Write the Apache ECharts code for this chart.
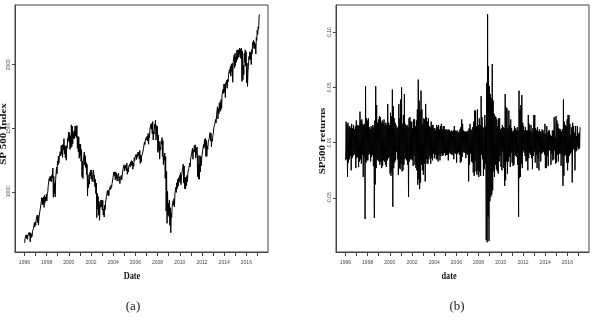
<!DOCTYPE html>
<html>
<head>
<meta charset="utf-8">
<script src="https://cdn.jsdelivr.net/npm/echarts@6/dist/echarts.min.js"></script>
<style>
  html, body { margin: 0; padding: 0; background: #fff; }
  #chart { width: 595px; height: 320px; }
</style>
</head>
<body>
<div id="chart"></div>
<script>
// monthly data, Jan 1996 .. Feb 2017 (one row per year)
const startYear = 1996;

// S&P 500: lowest and highest close in each month
const idxLow = [
  598, 628, 633, 626, 641, 656, 605, 639, 649, 686, 704, 723,
  737, 773, 757, 737, 798, 833, 891, 899, 899, 877, 915, 932,
  927, 1001, 1047, 1086, 1084, 1078, 1112, 957, 987, 959, 1111, 1142,
  1212, 1224, 1262, 1282, 1295, 1271, 1329, 1297, 1268, 1248, 1343, 1402,
  1394, 1333, 1346, 1356, 1378, 1420, 1419, 1438, 1427, 1342, 1315, 1264,
  1284, 1240, 1118, 1104, 1248, 1209, 1191, 1134, 966, 1033, 1060, 1124,
  1100, 1081, 1127, 1076, 1040, 985, 797, 864, 815, 776, 878, 880,
  856, 817, 801, 858, 917, 967, 974, 967, 996, 1018, 1034, 1061,
  1108, 1128, 1094, 1107, 1084, 1124, 1084, 1064, 1103, 1094, 1130, 1173,
  1163, 1184, 1166, 1138, 1155, 1187, 1194, 1209, 1205, 1177, 1202, 1245,
  1262, 1254, 1272, 1286, 1256, 1223, 1234, 1266, 1294, 1331, 1371, 1396,
  1409, 1399, 1374, 1424, 1485, 1492, 1455, 1407, 1453, 1500, 1407, 1445,
  1310, 1326, 1257, 1332, 1375, 1278, 1214, 1249, 1106, 848, 752, 818,
  806, 735, 677, 798, 880, 893, 880, 980, 995, 1025, 1043, 1088,
  1074, 1056, 1115, 1173, 1068, 1023, 1023, 1047, 1080, 1138, 1172, 1198,
  1270, 1302, 1256, 1310, 1315, 1265, 1292, 1119, 1099, 1099, 1158, 1205,
  1277, 1313, 1343, 1358, 1278, 1278, 1334, 1376, 1404, 1403, 1354, 1398,
  1459, 1496, 1519, 1541, 1598, 1573, 1614, 1630, 1640, 1656, 1762, 1775,
  1782, 1741, 1839, 1815, 1863, 1924, 1931, 1909, 1946, 1862, 2018, 1973,
  1992, 2020, 2040, 2058, 2080, 2058, 2047, 1868, 1882, 1923, 2019, 1989,
  1859, 1829, 1986, 2041, 2040, 2001, 2088, 2157, 2128, 2126, 2085, 2191,
  2238, 2279
];
const idxHigh = [
  636, 661, 660, 656, 678, 680, 676, 668, 690, 710, 757, 761,
  786, 816, 814, 801, 848, 898, 955, 951, 960, 973, 959, 983,
  985, 1049, 1105, 1122, 1118, 1134, 1187, 1121, 1066, 1099, 1193, 1241,
  1280, 1272, 1316, 1362, 1368, 1373, 1418, 1363, 1357, 1363, 1422, 1469,
  1465, 1441, 1527, 1516, 1469, 1480, 1517, 1518, 1521, 1437, 1432, 1376,
  1374, 1333, 1241, 1249, 1313, 1284, 1231, 1215, 1134, 1093, 1152, 1171,
  1172, 1116, 1171, 1129, 1097, 1068, 989, 963, 924, 900, 936, 934,
  932, 864, 895, 919, 964, 1011, 1010, 1008, 1039, 1051, 1064, 1112,
  1155, 1157, 1156, 1145, 1122, 1145, 1118, 1108, 1129, 1130, 1184, 1213,
  1203, 1211, 1226, 1181, 1198, 1216, 1235, 1245, 1241, 1226, 1269, 1272,
  1294, 1294, 1311, 1312, 1326, 1289, 1280, 1305, 1339, 1390, 1407, 1427,
  1438, 1459, 1444, 1495, 1531, 1539, 1553, 1474, 1531, 1565, 1520, 1516,
  1447, 1395, 1351, 1397, 1426, 1404, 1284, 1305, 1277, 1161, 1005, 909,
  934, 875, 833, 877, 929, 946, 987, 1036, 1071, 1098, 1110, 1128,
  1150, 1109, 1174, 1217, 1202, 1116, 1115, 1128, 1148, 1184, 1226, 1259,
  1299, 1343, 1330, 1364, 1370, 1345, 1353, 1287, 1217, 1285, 1276, 1266,
  1326, 1372, 1416, 1419, 1405, 1362, 1390, 1418, 1466, 1461, 1416, 1443,
  1502, 1530, 1569, 1598, 1669, 1654, 1698, 1709, 1726, 1763, 1807, 1848,
  1848, 1859, 1878, 1884, 1924, 1962, 1988, 2003, 2011, 2018, 2075, 2090,
  2063, 2115, 2117, 2117, 2131, 2124, 2129, 2108, 1996, 2090, 2117, 2103,
  2013, 1951, 2064, 2102, 2097, 2120, 2175, 2191, 2180, 2164, 2214, 2272,
  2298, 2370
];
const idxEnd = 2396; // 1 Mar 2017

// daily returns: largest and smallest in each month
const retMax = [
  0.019, 0.016, 0.018, 0.014, 0.015, 0.013, 0.017, 0.013, 0.016, 0.012, 0.015, 0.020,
  0.016, 0.015, 0.016, 0.028, 0.020, 0.021, 0.017, 0.016, 0.017, 0.051, 0.022, 0.020,
  0.022, 0.014, 0.012, 0.015, 0.013, 0.016, 0.014, 0.020, 0.051, 0.034, 0.018, 0.021,
  0.024, 0.023, 0.018, 0.020, 0.018, 0.021, 0.016, 0.018, 0.016, 0.035, 0.018, 0.016,
  0.027, 0.024, 0.048, 0.033, 0.022, 0.018, 0.016, 0.013, 0.014, 0.035, 0.022, 0.039,
  0.050, 0.017, 0.025, 0.044, 0.017, 0.015, 0.016, 0.014, 0.022, 0.023, 0.019, 0.019,
  0.013, 0.021, 0.021, 0.015, 0.020, 0.030, 0.057, 0.038, 0.029, 0.047, 0.030, 0.017,
  0.022, 0.021, 0.035, 0.023, 0.019, 0.022, 0.015, 0.014, 0.019, 0.016, 0.016, 0.013,
  0.013, 0.011, 0.016, 0.014, 0.016, 0.012, 0.015, 0.017, 0.012, 0.015, 0.015, 0.011,
  0.012, 0.012, 0.011, 0.012, 0.011, 0.010, 0.011, 0.010, 0.011, 0.015, 0.011, 0.010,
  0.011, 0.010, 0.009, 0.012, 0.014, 0.021, 0.017, 0.011, 0.010, 0.010, 0.010, 0.010,
  0.011, 0.013, 0.017, 0.012, 0.011, 0.014, 0.019, 0.029, 0.029, 0.015, 0.030, 0.016,
  0.022, 0.016, 0.042, 0.023, 0.014, 0.013, 0.025, 0.015, 0.054, 0.116, 0.069, 0.051,
  0.044, 0.040, 0.071, 0.038, 0.026, 0.024, 0.023, 0.021, 0.015, 0.022, 0.022, 0.012,
  0.013, 0.016, 0.014, 0.013, 0.044, 0.032, 0.031, 0.013, 0.029, 0.016, 0.021, 0.013,
  0.010, 0.011, 0.015, 0.013, 0.011, 0.014, 0.011, 0.047, 0.030, 0.034, 0.043, 0.018,
  0.015, 0.011, 0.014, 0.011, 0.011, 0.025, 0.017, 0.011, 0.016, 0.010, 0.013, 0.025,
  0.025, 0.013, 0.011, 0.014, 0.010, 0.012, 0.010, 0.010, 0.012, 0.011, 0.008, 0.017,
  0.008, 0.015, 0.009, 0.011, 0.011, 0.007, 0.006, 0.011, 0.011, 0.023, 0.005, 0.024,
  0.020, 0.017, 0.013, 0.012, 0.012, 0.010, 0.012, 0.039, 0.019, 0.016, 0.015, 0.021,
  0.025, 0.025, 0.017, 0.007, 0.014, 0.018, 0.015, 0.009, 0.015, 0.006, 0.015, 0.008,
  0.009, 0.014
];
const retMin = [
  -0.016, -0.015, -0.031, -0.018, -0.015, -0.012, -0.025, -0.014, -0.012, -0.011, -0.010, -0.023,
  -0.014, -0.013, -0.022, -0.017, -0.015, -0.019, -0.011, -0.031, -0.013, -0.069, -0.018, -0.016,
  -0.016, -0.011, -0.010, -0.017, -0.013, -0.011, -0.021, -0.068, -0.038, -0.023, -0.015, -0.016,
  -0.017, -0.020, -0.017, -0.023, -0.021, -0.016, -0.017, -0.020, -0.022, -0.016, -0.014, -0.013,
  -0.028, -0.030, -0.026, -0.058, -0.023, -0.018, -0.016, -0.008, -0.015, -0.029, -0.023, -0.024,
  -0.019, -0.026, -0.025, -0.020, -0.015, -0.014, -0.016, -0.020, -0.049, -0.017, -0.015, -0.015,
  -0.016, -0.021, -0.012, -0.020, -0.023, -0.025, -0.038, -0.033, -0.042, -0.036, -0.020, -0.025,
  -0.029, -0.019, -0.035, -0.015, -0.019, -0.019, -0.015, -0.012, -0.019, -0.014, -0.016, -0.010,
  -0.014, -0.011, -0.015, -0.015, -0.017, -0.011, -0.016, -0.012, -0.010, -0.012, -0.011, -0.009,
  -0.012, -0.011, -0.011, -0.016, -0.009, -0.010, -0.010, -0.011, -0.011, -0.015, -0.009, -0.010,
  -0.018, -0.010, -0.009, -0.011, -0.018, -0.017, -0.013, -0.008, -0.009, -0.009, -0.014, -0.010,
  -0.011, -0.035, -0.020, -0.010, -0.017, -0.018, -0.027, -0.030, -0.017, -0.026, -0.029, -0.025,
  -0.031, -0.026, -0.030, -0.011, -0.015, -0.030, -0.024, -0.019, -0.088, -0.090, -0.067, -0.089,
  -0.053, -0.049, -0.047, -0.043, -0.026, -0.031, -0.020, -0.024, -0.026, -0.028, -0.017, -0.012,
  -0.022, -0.025, -0.008, -0.023, -0.039, -0.034, -0.017, -0.028, -0.017, -0.013, -0.022, -0.009,
  -0.018, -0.021, -0.020, -0.011, -0.012, -0.013, -0.020, -0.067, -0.032, -0.031, -0.019, -0.023,
  -0.007, -0.009, -0.012, -0.017, -0.016, -0.025, -0.014, -0.009, -0.011, -0.014, -0.024, -0.012,
  -0.008, -0.018, -0.011, -0.023, -0.014, -0.025, -0.009, -0.017, -0.010, -0.009, -0.008, -0.011,
  -0.023, -0.023, -0.012, -0.021, -0.007, -0.007, -0.020, -0.010, -0.016, -0.015, -0.007, -0.019,
  -0.018, -0.011, -0.017, -0.010, -0.010, -0.021, -0.011, -0.039, -0.030, -0.012, -0.011, -0.018,
  -0.025, -0.018, -0.012, -0.010, -0.009, -0.036, -0.006, -0.006, -0.025, -0.008, -0.007, -0.004,
  -0.006, -0.005
];

const xTicks = [1996, 1997, 1998, 1999, 2000, 2001, 2002, 2003, 2004, 2005, 2006,
  2007, 2008, 2009, 2010, 2011, 2012, 2013, 2014, 2015, 2016, 2017];
const xLabels = [1996, 1998, 2000, 2002, 2004, 2006, 2008, 2010, 2012, 2014, 2016];
const idxTicks = [1000, 1500, 2000];
const retTicks = [-0.05, 0, 0.05, 0.10];

// month i -> two points inside that month (low/high)
function zigzag(lo, hi) {
  const out = [];
  lo.forEach((v, i) => {
    out.push([startYear + (i + 0.25) / 12, v]);
    out.push([startYear + (i + 0.75) / 12, hi[i]]);
  });
  return out;
}
const idxData = zigzag(idxLow, idxHigh);
idxData.push([startYear + idxLow.length / 12, idxEnd]);
const retData = zigzag(retMin, retMax);

const chart = echarts.init(document.getElementById('chart'), null, { renderer: 'canvas' });

const tickFont = { fontSize: 5, color: '#444', fontFamily: 'Liberation Sans, Arial, sans-serif' };
const boxColor = '#444';

function xAxisFor(gridIndex) {
  return {
    type: 'value', gridIndex: gridIndex,
    min: 1995.15, max: 2017.95,
    axisLine: { show: true, onZero: false, lineStyle: { color: boxColor, width: 1 } },
    axisTick: { show: true, customValues: xTicks, length: 4, lineStyle: { color: boxColor } },
    axisLabel: Object.assign({ customValues: xLabels, margin: 8, formatter: v => String(v) }, tickFont),
    splitLine: { show: false }
  };
}

const option = {
  backgroundColor: '#fff',
  animation: false,
  grid: [
    { left: 15, right: 327, top: 5, bottom: 68, show: true, borderColor: boxColor, borderWidth: 1 },
    { left: 336, right: 6, top: 5, bottom: 68, show: true, borderColor: boxColor, borderWidth: 1 }
  ],
  xAxis: [xAxisFor(0), xAxisFor(1)],
  yAxis: [
    {
      type: 'value', gridIndex: 0, min: 526, max: 2470,
      axisLine: { show: true, onZero: false, lineStyle: { color: boxColor } },
      axisTick: { show: true, customValues: idxTicks, length: 3, lineStyle: { color: boxColor } },
      axisLabel: Object.assign({ customValues: idxTicks, rotate: 90, margin: 4, formatter: v => String(v) }, tickFont),
      splitLine: { show: false }
    },
    {
      type: 'value', gridIndex: 1, min: -0.0988, max: 0.1244,
      axisLine: { show: true, onZero: false, lineStyle: { color: boxColor } },
      axisTick: { show: true, customValues: retTicks, length: 3, lineStyle: { color: boxColor } },
      axisLabel: Object.assign({
        customValues: retTicks, rotate: 90, margin: 4,
        formatter: v => v.toFixed(2)
      }, tickFont),
      splitLine: { show: false }
    }
  ],
  series: [
    {
      type: 'line', xAxisIndex: 0, yAxisIndex: 0, data: idxData,
      showSymbol: false, sampling: null,
      lineStyle: { color: '#000', width: 1 }
    },
    {
      type: 'line', xAxisIndex: 1, yAxisIndex: 1, data: retData,
      showSymbol: false, sampling: null,
      lineStyle: { color: '#000', width: 1 }
    }
  ],
  graphic: [
    // axis titles and panel captions
    { type: 'text', x: 4, y: 134, rotation: Math.PI / 2, scaleY: 0.8,
      style: { text: 'SP 500 Index', font: 'bold 11px "Liberation Serif", serif', fill: '#111', align: 'center', verticalAlign: 'middle' } },
    { type: 'text', x: 323, y: 141, rotation: Math.PI / 2, scaleY: 0.8,
      style: { text: 'SP500 returns', font: 'bold 11px "Liberation Serif", serif', fill: '#111', align: 'center', verticalAlign: 'middle' } },
    { type: 'text', x: 132, y: 276, scaleX: 0.75,
      style: { text: 'Date', font: 'bold 11px "Liberation Serif", serif', fill: '#111', align: 'center', verticalAlign: 'middle' } },
    { type: 'text', x: 449, y: 276, scaleX: 0.75,
      style: { text: 'date', font: 'bold 11px "Liberation Serif", serif', fill: '#111', align: 'center', verticalAlign: 'middle' } },
    { type: 'text', x: 133, y: 307,
      style: { text: '(a)', font: '13px "Liberation Serif", serif', fill: '#222', align: 'center', verticalAlign: 'middle' } },
    { type: 'text', x: 457, y: 307,
      style: { text: '(b)', font: '13px "Liberation Serif", serif', fill: '#222', align: 'center', verticalAlign: 'middle' } }
  ]
};

chart.setOption(option);
</script>
</body>
</html>
